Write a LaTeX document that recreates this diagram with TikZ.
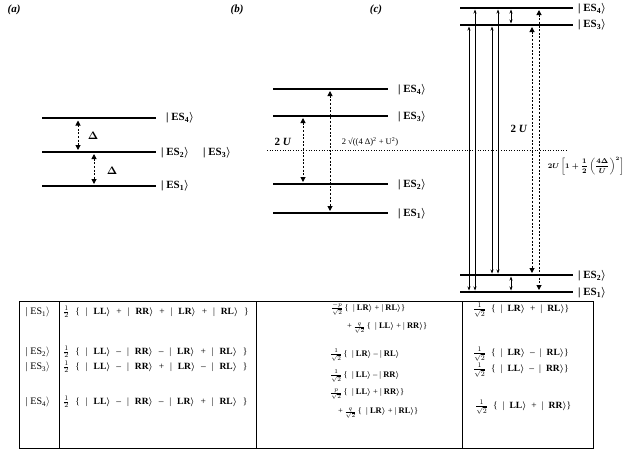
\documentclass[tikz,border=0pt]{standalone}
\usepackage{fontspec}
\setmainfont{Liberation Serif}
\usetikzlibrary{arrows.meta}
\usepackage{amsmath,bm}
\newcommand{\esl}[1]{| ES\textsubscript{#1}$\rangle$}
\newcommand{\kb}[1]{| \textbf{#1}$\boldsymbol{\rangle}$}
\newcommand{\wideA}{\spaceskip 5.9pt\relax}
\newcommand{\wideB}{\spaceskip 5pt\relax}
\newcommand{\sfr}[2]{$\tfrac{#1}{#2}$}
\begin{document}
\begin{tikzpicture}[x=1pt,y=-1pt,
  lvl/.style={line width=2.6pt},
  darr/.style={line width=1pt, dash pattern=on 2pt off 1.6pt,
    {Triangle[length=5pt,width=5pt]}-{Triangle[length=5pt,width=5pt]}},
  sarr/.style={line width=0.6pt,
    {Stealth[length=4pt,width=3pt]}-{Stealth[length=4pt,width=3pt]}},
  lab/.style={font=\bfseries\boldmath\fontsize{11}{13}\selectfont, anchor=west, inner sep=0pt},
  ttl/.style={font=\bfseries\itshape\fontsize{11}{13}\selectfont, inner sep=0pt},
  tabl/.style={font=\fontsize{10}{12}\selectfont, inner sep=0pt},
  tabw/.style={font=\fontsize{9.5}{11}\selectfont\wideA, inner sep=0pt, anchor=west},
  tabm/.style={font=\fontsize{8.5}{10}\selectfont, inner sep=0pt, anchor=west},
  tabr/.style={font=\fontsize{9.5}{11}\selectfont\wideB, inner sep=0pt, anchor=west},
  dotl/.style={line width=0.6pt, dotted}
]
\useasboundingbox (0,0) rectangle (626,451);

% titles
\node[ttl] (ta) at (14,10) {(a)};
\node[ttl] (tb) at (237,10) {(b)};
\node[ttl] (tc) at (376,10) {(c)};

% ---------- panel (a)
\draw[lvl] (42,118) -- (156,118);
\draw[lvl] (42,152) -- (156,152);
\draw[lvl] (42,186) -- (156,186);
\node[lab] (a4) at (166,118) {\esl{4}};
\node[lab] (a2) at (161,153) {\esl{2}};
\node[lab] (a3) at (203,153) {\esl{3}};
\node[lab] (a1) at (161,186) {\esl{1}};
\draw[darr] (78,120.5) -- (78,150);
\draw[darr] (94,154) -- (94,184);
\node[lab, anchor=center] (d1) at (93,136) {$\bm\Delta$};
\node[lab, anchor=center] (d2) at (112,171) {$\bm\Delta$};

% ---------- panel (b)
\draw[lvl] (273,89) -- (388,89);
\draw[lvl] (273,116) -- (388,116);
\draw[lvl] (273,184) -- (388,184);
\draw[lvl] (273,213) -- (388,213);
\node[lab] (b4) at (398,90) {\esl{4}};
\node[lab] (b3) at (398,117) {\esl{3}};
\node[lab] (b2) at (398,185) {\esl{2}};
\node[lab] (b1) at (398,214) {\esl{1}};
\draw[dotl] (267,150) -- (568,150);
\draw[darr] (303,118) -- (303,182);
\draw[darr] (330,91) -- (330,211);
\node[lab, anchor=center] (u2b) at (283,142) {2 \textit{U}};
\node[font=\fontsize{8.5}{10}\selectfont, inner sep=0pt] (fb) at (370,142)
  {2 √((4 Δ)\textsuperscript{2} + U\textsuperscript{2})};

% ---------- panel (c)
\draw[lvl] (460,8) -- (573,8);
\draw[lvl] (460,25) -- (573,25);
\draw[lvl] (460,275) -- (573,275);
\draw[lvl] (460,292) -- (573,292);
\node[lab] (c4) at (578,9) {\esl{4}};
\node[lab] (c3) at (578,25) {\esl{3}};
\node[lab] (c2) at (578,276) {\esl{2}};
\node[lab] (c1) at (578,293) {\esl{1}};
\draw[sarr] (469,26.5) -- (469,290.5);
\draw[sarr] (475,9.5) -- (475,290.5);
\draw[sarr] (492,26.5) -- (492,273.5);
\draw[sarr] (498,9.5) -- (498,273.5);
\draw[sarr] (511,9.5) -- (511,23.5);
\draw[sarr] (511,276.5) -- (511,290.5);
\draw[darr] (532,27) -- (532,273);
\draw[darr] (539,10) -- (539,290);
\node[lab, anchor=center] (u2c) at (519,129) {2 \textit{U}};
\node[font=\fontsize{7}{9}\selectfont\bfseries\boldmath, inner sep=0pt] (fc) at (586,166)
  {$2U\left[1+\dfrac{1}{2}\left(\dfrac{4\Delta}{U}\right)^{2}\right]$};

% ---------- table
\draw[line width=0.8pt] (19,301) rectangle (593,448);
\draw[line width=0.8pt] (59,301) -- (59,448);
\draw[line width=0.8pt] (256,301) -- (256,448);
\draw[line width=0.8pt] (462,301) -- (462,448);

\node[tabl] (r1) at (38,312) {\esl{1}};
\node[tabl] (r2) at (38,352) {\esl{2}};
\node[tabl] (r3) at (38,367) {\esl{3}};
\node[tabl] (r4) at (38,402) {\esl{4}};

\node[tabw] (a1t) at (63,312) {$\tfrac{1}{2}$ \{ \kb{LL} + \kb{RR} + \kb{LR} + \kb{RL} \}};
\node[tabw] (a2t) at (63,352) {$\tfrac{1}{2}$ \{ \kb{LL} -- \kb{RR} -- \kb{LR} + \kb{RL} \}};
\node[tabw] (a3t) at (63,367) {$\tfrac{1}{2}$ \{ \kb{LL} -- \kb{RR} + \kb{LR} -- \kb{RL} \}};
\node[tabw] (a4t) at (63,402) {$\tfrac{1}{2}$ \{ \kb{LL} -- \kb{RR} -- \kb{LR} + \kb{RL} \}};

\node[tabm] (b1t) at (331,309) {\sfr{-p}{\sqrt{2}}\,\{ \ \kb{LR} + \kb{RL}\}};
\node[tabm] (b1u) at (347,328) {+\,\sfr{q}{\sqrt{2}}\,\{ \ \kb{LL} + \kb{RR}\}};
\node[tabm] (b2t) at (330,355) {\sfr{1}{\sqrt{2}}\,\{ \ \kb{LR} -- \kb{RL}};
\node[tabm] (b3t) at (330,376) {\sfr{1}{\sqrt{2}}\,\{ \ \kb{LL} -- \kb{RR}};
\node[tabm] (b4t) at (330,394) {\sfr{p}{\sqrt{2}}\,\{ \ \kb{LL} + \kb{RR}\}};
\node[tabm] (b4u) at (338,413) {+\,\sfr{q}{\sqrt{2}}\,\{ \ \kb{LR} + \kb{RL}\}};

\node[tabr] (c1t) at (473,310) {\sfr{1}{\sqrt{2}} \{ \kb{LR} + \kb{RL}\}};
\node[tabr] (c2t) at (473,354) {\sfr{1}{\sqrt{2}} \{ \kb{LR} -- \kb{RL}\}};
\node[tabr] (c3t) at (473,370) {\sfr{1}{\sqrt{2}} \{ \kb{LL} -- \kb{RR}\}};
\node[tabr] (c4t) at (475,407) {\sfr{1}{\sqrt{2}} \{ \kb{LL} + \kb{RR}\}};
\end{tikzpicture}
\end{document}
